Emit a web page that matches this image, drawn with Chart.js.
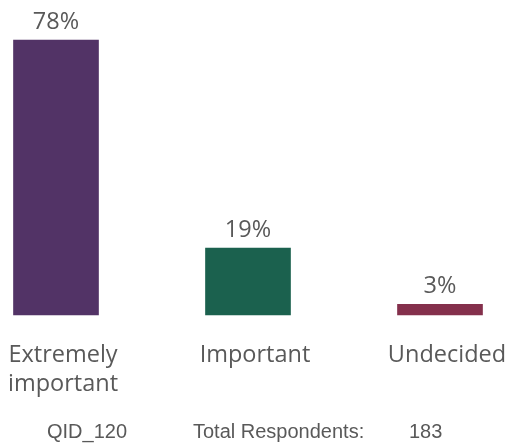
<!DOCTYPE html>
<html>
<head>
<meta charset="utf-8">
<script src="https://cdn.jsdelivr.net/npm/chart.js@4/dist/chart.umd.min.js"></script>
<style>
  html, body { margin: 0; padding: 0; background: #fff; }
  #wrap { width: 508px; height: 444px; position: relative; }
</style>
</head>
<body>
<div id="wrap"><canvas id="chart" width="508" height="444"></canvas></div>
<script>
const categories = [["Extremely", "important"], ["Important"], ["Undecided"]];
const values = [78, 19, 3];
const barColors = ["#523366", "#1b614e", "#84304c"];
const footer = ["QID_120", "Total Respondents:", "183"];

const textColor = "#595959";
const labelFont = "23.5px 'Open Sans', 'Noto Sans', sans-serif";

// value labels above bars + category labels under them
const labelsPlugin = {
    id: "labels",
    afterDatasetsDraw(chart) {
        const ctx = chart.ctx;
        const meta = chart.getDatasetMeta(0);
        const x = chart.scales.x;
        ctx.save();
        ctx.fillStyle = textColor;
        ctx.font = labelFont;
        ctx.textBaseline = "alphabetic";
        ctx.textAlign = "center";
        meta.data.forEach((bar, i) => {
            ctx.fillText(values[i] + "%", bar.x, bar.y - 11);
            const cx = x.getPixelForValue(i) + 7;
            categories[i].forEach((line, j) => {
                ctx.fillText(line, cx, 362 + j * 28.5);
            });
        });
        ctx.font = "20px 'Liberation Sans', Arial, sans-serif";
        ctx.textAlign = "left";
        ctx.fillText(footer[0], 47, 438);
        ctx.fillText(footer[1], 193, 438);
        ctx.fillText(footer[2], 409, 438);
        ctx.restore();
    }
};

new Chart(document.getElementById("chart"), {
    type: "bar",
    data: {
        labels: categories.map(c => c.join(" ")),
        datasets: [{
            data: values,
            backgroundColor: barColors,
            barThickness: 85,
            clip: false
        }]
    },
    options: {
        responsive: false,
        animation: false,
        layout: { padding: { left: 56, right: 68, top: 33, bottom: 129 } },
        plugins: {
            legend: { display: false },
            tooltip: { enabled: false }
        },
        scales: {
            x: { display: false, offset: false },
            y: { display: false, min: 0, max: 80 }
        }
    },
    plugins: [labelsPlugin]
});
</script>
</body>
</html>
